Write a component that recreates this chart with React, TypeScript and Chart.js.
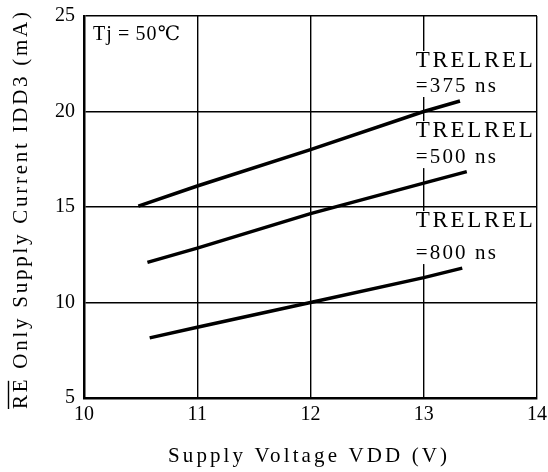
import React, { useEffect, useRef } from "react";
import { Chart, registerables } from "chart.js";

Chart.register(...registerables);

const xTicks = [10, 11, 12, 13, 14];
const yTicks = [5, 10, 15, 20, 25];

const vdd375 = [10.48, 11, 12, 13, 13.32];
const idd375 = [15.05, 16.1, 18.0, 20.0, 20.55];

const vdd500 = [10.56, 11, 12, 13, 13.38];
const idd500 = [12.1, 12.85, 14.65, 16.25, 16.85];

const vdd800 = [10.58, 11, 12, 13, 13.34];
const idd800 = [8.15, 8.7, 10.0, 11.3, 11.8];

const seriesLabels = ["TRELREL =375 ns", "TRELREL =500 ns", "TRELREL =800 ns"];
const noteLine1 = "TRELREL";
const noteLine2 = ["=375 ns", "=500 ns", "=800 ns"];
// anchor (data coords) of the first text line baseline, and gap to second line (px)
const noteX = [12.93, 12.93, 12.93];
const noteY = [22.33, 18.66, 13.95];
const noteGap = [25, 26, 32];

const xTitle = "Supply Voltage VDD (V)";
const yTitle = "RE Only Supply Current IDD3 (mA)";
const condLabel = "Tj\u2009=\u200950\u2103";

const toPts = (xs: number[], ys: number[]) => xs.map((x, i) => ({ x, y: ys[i] }));

const SERIF = "'Liberation Serif', 'DejaVu Serif', serif";

function fitText(ctx: any, text: string, x: number, y: number, width: number, align: "left" | "center") {
  ctx.letterSpacing = "0px";
  const w0 = ctx.measureText(text).width;
  const n = Array.from(text).length;
  const s = n > 1 ? (width - w0) / (n - 1) : 0;
  ctx.letterSpacing = `${s}px`;
  ctx.textAlign = "left";
  const start = align === "center" ? x - width / 2 : x;
  ctx.fillText(text, start, y);
  ctx.letterSpacing = "0px";
  return start;
}

const textPlugin = {
  id: "textPlugin",
  beforeDatasetsDraw(chart: any) {
    const ctx = chart.ctx as CanvasRenderingContext2D;
    const xs = chart.scales.x;
    const ys = chart.scales.y;
    ctx.save();
    ctx.fillStyle = "#fff";
    for (let i = 0; i < noteY.length; i++) {
      const px = xs.getPixelForValue(noteX[i]);
      const py = ys.getPixelForValue(noteY[i]);
      ctx.fillRect(px - 5, py - 16, 120, noteGap[i] + 21);
    }
    ctx.restore();
  },
  afterDraw(chart: any) {
    const ctx = chart.ctx as any;
    const xs = chart.scales.x;
    const ys = chart.scales.y;
    ctx.save();
    ctx.fillStyle = "#000";
    ctx.textBaseline = "alphabetic";

    ctx.font = `20px ${SERIF}`;
    fitText(ctx, condLabel, 93, 40, 87, "left");

    for (let i = 0; i < noteY.length; i++) {
      const px = xs.getPixelForValue(noteX[i]);
      const py = ys.getPixelForValue(noteY[i]);
      ctx.font = `23px ${SERIF}`;
      fitText(ctx, noteLine1, px, py, 117, "left");
      ctx.font = `21px ${SERIF}`;
      fitText(ctx, noteLine2[i], px, py + noteGap[i], 80, "left");
    }

    ctx.font = `21px ${SERIF}`;
    fitText(ctx, xTitle, 307.5, 462, 279, "center");

    ctx.save();
    ctx.translate(27, 210.5);
    ctx.rotate(-Math.PI / 2);
    ctx.font = `21px ${SERIF}`;
    const width = 397;
    const start = fitText(ctx, yTitle, 0, 0, width, "center");
    // overline over "RE"
    ctx.letterSpacing = "0px";
    const w0 = ctx.measureText(yTitle).width;
    const s = (width - w0) / (Array.from(yTitle).length - 1);
    const reW = ctx.measureText("RE").width + s * 0.5;
    ctx.strokeStyle = "#000";
    ctx.lineWidth = 1.4;
    ctx.beginPath();
    ctx.moveTo(start, -18.5);
    ctx.lineTo(start + reW, -18.5);
    ctx.stroke();
    ctx.restore();

    ctx.restore();
  },
};

export default function App() {
  const ref = useRef<HTMLCanvasElement>(null);
  useEffect(() => {
    if (!ref.current) return;
    const mk = (label: string, data: any) => ({
      label,
      data,
      showLine: true,
      borderColor: "#000",
      backgroundColor: "#000",
      borderWidth: 3.5,
      pointRadius: 0,
      fill: false,
    });
    const chart = new Chart(ref.current, {
      type: "scatter",
      data: {
        datasets: [
          mk(seriesLabels[0], toPts(vdd375, idd375)),
          mk(seriesLabels[1], toPts(vdd500, idd500)),
          mk(seriesLabels[2], toPts(vdd800, idd800)),
        ],
      },
      options: {
        animation: false,
        responsive: false,
        layout: { padding: { top: 16, right: 11, left: 0, bottom: 0 } },
        plugins: { legend: { display: false }, tooltip: { enabled: false } },
        scales: {
          x: {
            type: "linear",
            min: 10,
            max: 14,
            afterBuildTicks: (s: any) => {
              s.ticks = xTicks.map((v) => ({ value: v }));
            },
            afterFit: (s: any) => {
              s.height = 74;
              s.paddingLeft = 0;
              s.paddingRight = 0;
            },
            grid: { color: "#000", lineWidth: 1.4, drawTicks: false },
            border: { color: "#000", width: 2.5 },
            ticks: {
              color: "#000",
              padding: 5,
              font: { family: SERIF, size: 20 },
            },
          },
          y: {
            type: "linear",
            min: 5,
            max: 25,
            afterBuildTicks: (s: any) => {
              s.ticks = yTicks.map((v) => ({ value: v }));
            },
            afterFit: (s: any) => {
              s.width = 84;
              s.paddingTop = 0;
              s.paddingBottom = 0;
            },
            grid: { color: "#000", lineWidth: 1.4, drawTicks: false },
            border: { color: "#000", width: 2.5 },
            ticks: {
              color: "#000",
              padding: 9,
              font: { family: SERIF, size: 20 },
            },
          },
        },
      },
      plugins: [textPlugin],
    } as any);
    return () => chart.destroy();
  }, []);
  return (
    <div style={{ position: "fixed", left: 0, top: 0, width: 548, height: 472, background: "#fff" }}>
      <canvas ref={ref} width={548} height={472} />
    </div>
  );
}
